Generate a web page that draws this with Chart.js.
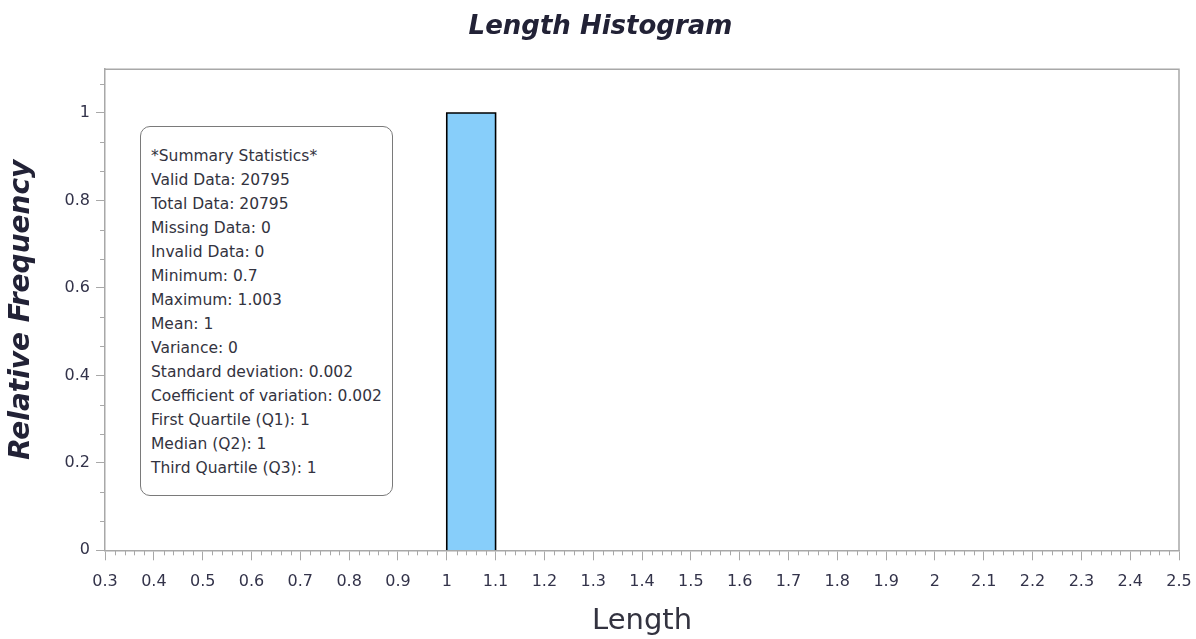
<!DOCTYPE html>
<html>
<head>
<meta charset="utf-8">
<script src="https://cdn.jsdelivr.net/npm/chart.js@4"></script>
<style>
  html, body { margin: 0; padding: 0; background: #fff; }
  #wrap { position: relative; width: 1196px; height: 639px; }
  #statsBox {
    position: absolute; left: 140px; top: 126px; width: 253px; height: 370px;
    box-sizing: border-box; border: 1.5px solid #7a7a7a; border-radius: 10px;
    background: #fff; padding: 17px 0 0 10px;
    font-family: "DejaVu Sans", sans-serif; font-size: 15.5px;
    line-height: 24px; color: #333340; white-space: nowrap;
  }
</style>
</head>
<body>
<div id="wrap">
  <canvas id="histo" width="1196" height="639"></canvas>
  <div id="statsBox"></div>
</div>
<script>
// Datos del histograma
const binEdges = [1.0, 1.1];
const binFreq = [1];
const xTickValues = [0.3, 0.4, 0.5, 0.6, 0.7, 0.8, 0.9, 1.0, 1.1, 1.2, 1.3, 1.4, 1.5, 1.6, 1.7, 1.8, 1.9, 2.0, 2.1, 2.2, 2.3, 2.4, 2.5];
const xTickLabels = ["0.3", "0.4", "0.5", "0.6", "0.7", "0.8", "0.9", "1", "1.1", "1.2", "1.3", "1.4", "1.5", "1.6", "1.7", "1.8", "1.9", "2", "2.1", "2.2", "2.3", "2.4", "2.5"];
const yTickValues = [0, 0.2, 0.4, 0.6, 0.8, 1];
const yTickLabels = ["0", "0.2", "0.4", "0.6", "0.8", "1"];
const statsLines = [
  "*Summary Statistics*",
  "Valid Data: 20795",
  "Total Data: 20795",
  "Missing Data: 0",
  "Invalid Data: 0",
  "Minimum: 0.7",
  "Maximum: 1.003",
  "Mean: 1",
  "Variance: 0",
  "Standard deviation: 0.002",
  "Coefficient of variation: 0.002",
  "First Quartile (Q1): 1",
  "Median (Q2): 1",
  "Third Quartile (Q3): 1",
];

// Caja de estadísticas
document.getElementById("statsBox").innerHTML = statsLines.map((l) => `<div>${l}</div>`).join("");

// Puntos del contorno de cada barra (a partir de los bordes de clase)
const barPoints = [];
binFreq.forEach((f, i) => {
  barPoints.push({ x: binEdges[i], y: 0 });
  barPoints.push({ x: binEdges[i], y: f });
  barPoints.push({ x: binEdges[i + 1], y: f });
  barPoints.push({ x: binEdges[i + 1], y: 0 });
});

const axisGray = "#a8a8a8";
const labelColor = "#33334a";

// Marco del área del gráfico y marcas menores
const framePlugin = {
  id: "framePlugin",
  afterDraw(chart) {
    const { ctx, chartArea: a, scales } = chart;
    ctx.save();
    ctx.strokeStyle = axisGray;
    ctx.lineWidth = 1.5;
    ctx.beginPath();
    ctx.moveTo(a.left, a.top);
    ctx.lineTo(a.right, a.top);
    ctx.lineTo(a.right, a.bottom);
    ctx.stroke();

    ctx.lineWidth = 1;
    ctx.beginPath();
    for (let k = 0; k <= 110; k++) {
      if (k % 5 === 0) continue;
      const px = Math.round(scales.x.getPixelForValue(0.3 + k * 0.02)) + 0.5;
      ctx.moveTo(px, a.bottom);
      ctx.lineTo(px, a.bottom + 5);
    }
    for (let k = 0; k <= 16; k++) {
      if (k % 3 === 0) continue;
      const py = Math.round(scales.y.getPixelForValue(k * 0.2 / 3)) + 0.5;
      ctx.moveTo(a.left, py);
      ctx.lineTo(a.left - 5, py);
    }
    ctx.stroke();
    ctx.restore();
  },
};

new Chart(document.getElementById("histo"), {
  type: "line",
  data: {
    datasets: [
      {
        data: barPoints,
        fill: "origin",
        backgroundColor: "#87cefa",
        borderColor: "#000000",
        borderWidth: 1.6,
        pointRadius: 0,
        tension: 0,
      },
    ],
  },
  options: {
    responsive: false,
    animation: false,
    layout: { padding: { left: 5, right: 0, top: 0, bottom: 3 } },
    plugins: {
      legend: { display: false },
      tooltip: { enabled: false },
      title: {
        display: true,
        text: "Length Histogram",
        color: "#222236",
        font: { family: "DejaVu Sans", size: 26, weight: "bold", style: "italic" },
        padding: { top: 12, bottom: 26 },
      },
    },
    scales: {
      x: {
        type: "linear",
        min: 0.3,
        max: 2.5,
        afterBuildTicks: (s) => { s.ticks = xTickValues.map((v) => ({ value: v })); },
        afterFit: (s) => { s.paddingRight = 17; },
        ticks: {
          autoSkip: false,
          maxRotation: 0,
          padding: 11.5,
          color: labelColor,
          font: { family: "DejaVu Sans", size: 16 },
          callback: (v, i) => xTickLabels[i],
        },
        grid: { drawOnChartArea: false, color: axisGray, tickLength: 10 },
        border: { color: axisGray, width: 1.5 },
        title: {
          display: true,
          text: "Length",
          color: "#333340",
          font: { family: "DejaVu Sans", size: 29, lineHeight: 1 },
          padding: { top: 4.5, bottom: 0 },
        },
      },
      y: {
        min: 0,
        max: 1.1,
        afterBuildTicks: (s) => { s.ticks = yTickValues.map((v) => ({ value: v })); },
        ticks: {
          padding: 6,
          color: labelColor,
          font: { family: "DejaVu Sans", size: 16 },
          callback: (v, i) => yTickLabels[i],
        },
        grid: { drawOnChartArea: false, color: axisGray, tickLength: 9 },
        border: { color: axisGray, width: 1.5 },
        title: {
          display: true,
          text: "Relative Frequency",
          color: "#222236",
          font: { family: "DejaVu Sans", size: 28, weight: "bold", style: "italic" },
          padding: { top: 0, bottom: 20 },
        },
      },
    },
  },
  plugins: [framePlugin],
});
</script>
</body>
</html>
